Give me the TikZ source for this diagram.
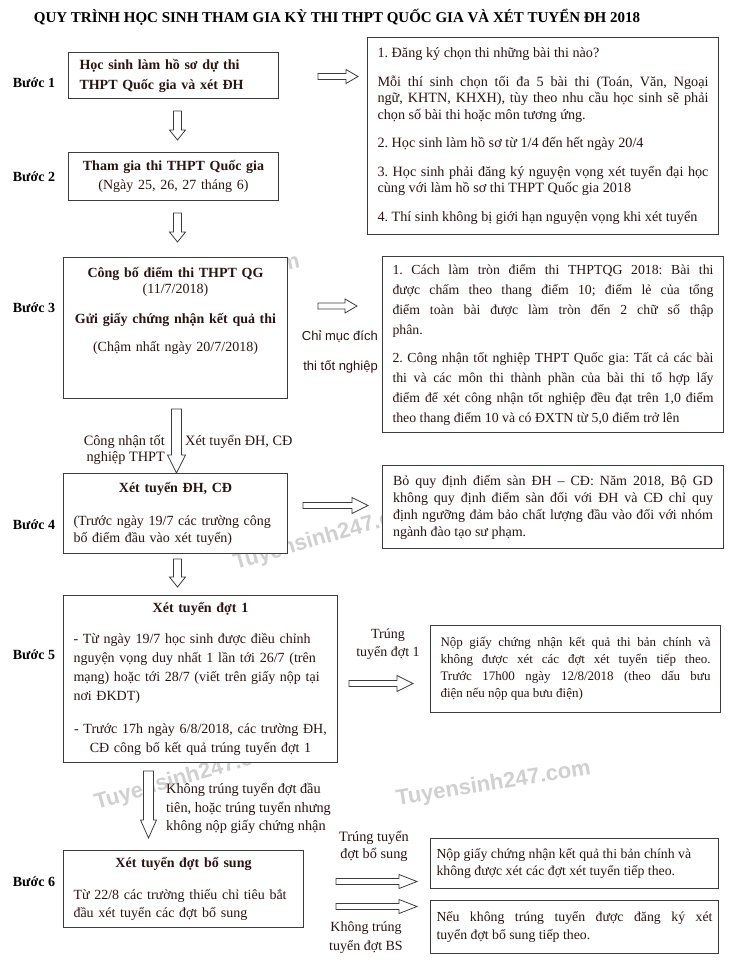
\documentclass[tikz,border=0pt]{standalone}
\usepackage{fontspec}
\setmainfont{Liberation Serif}
\newfontfamily\wmfont{Liberation Sans}
\newfontfamily\labelsans{Liberation Sans}
\usetikzlibrary{calc}
\frenchspacing

\definecolor{boxline}{RGB}{60,60,60}
\definecolor{bodytxt}{RGB}{40,22,18}
\definecolor{wmgray}{RGB}{208,208,208}

\newcommand{\midline}[1]{\makebox[\hsize]{#1}}

\tikzset{
  stepbox/.style={draw=boxline, line width=1pt, fill=white, anchor=north west, inner xsep=10pt, inner ysep=0pt, text=bodytxt},
  notebox/.style={draw=boxline, line width=1pt, fill=white, anchor=north west, inner xsep=10pt, inner ysep=0pt, align=justify, text=bodytxt},
  steplabel/.style={font=\fontsize{14}{16}\selectfont\bfseries, inner sep=0pt},
  flowlabel/.style={text=bodytxt, inner sep=0pt},
  watermark/.style={font=\wmfont\bfseries\fontsize{22}{22}\selectfont, text=wmgray, inner sep=0pt},
  downblock/.style n args={3}{draw=boxline, line width=0.8pt, fill=white,
    to path={let \p1=(\tikztostart), \p2=(\tikztotarget) in
      (\x1-#1,\y1) -- (\x1-#1,\y2+#3) -- (\x1-#2,\y2+#3) -- (\x1,\y2)
      -- (\x1+#2,\y2+#3) -- (\x1+#1,\y2+#3) -- (\x1+#1,\y1) -- cycle}},
  rightblock/.style n args={3}{draw=boxline, line width=0.8pt, fill=white,
    to path={let \p1=(\tikztostart), \p2=(\tikztotarget) in
      (\x1,\y1+#1) -- (\x2-#3,\y1+#1) -- (\x2-#3,\y1+#2) -- (\x2,\y1)
      -- (\x2-#3,\y1-#2) -- (\x2-#3,\y1-#1) -- (\x1,\y1-#1) -- cycle}},
}

\begin{document}
\begin{tikzpicture}[x=1pt, y=-1pt]
\useasboundingbox[fill=white] (0,0) rectangle (729,969);

% watermarks
\node[watermark, rotate=12, anchor=south east] (wm1) at (302,272) {Tuyensinh247.com};
\node[watermark, rotate=16, anchor=south west] (wm2) at (237,574) {Tuyensinh247.com};
\node[watermark, rotate=16, anchor=south west] (wm3) at (98,814) {Tuyensinh247.com};
\node[watermark, rotate=9, anchor=south west] (wm4) at (398,810) {Tuyensinh247.com};

% title
\node[font=\fontsize{15}{18}\selectfont\bfseries] (title) at (337,17) {QUY TRÌNH HỌC SINH THAM GIA KỲ THI THPT QUỐC GIA VÀ XÉT TUYỂN ĐH 2018};

% left column
\node[stepbox, minimum width=210pt, minimum height=46pt, text width=188pt, inner xsep=11pt, align=left, font=\fontsize{14}{20}\selectfont\bfseries] (b1) at (68,52) {Học sinh làm hồ sơ dự thi\\THPT Quốc gia và xét ĐH};
\node[stepbox, minimum width=210pt, minimum height=48pt, text width=190pt, align=center, font=\fontsize{14}{19}\selectfont] (b2) at (68,152) {\textbf{Tham gia thi THPT Quốc gia}\\(Ngày 25, 26, 27 tháng 6)};
\node[stepbox, minimum width=224pt, minimum height=141pt, text width=204pt, align=center, font=\fontsize{14}{16}\selectfont] (b3) at (63,257) {\textbf{Công bố điểm thi THPT QG}\\(11/7/2018)\\[14pt]\textbf{Gửi giấy chứng nhận kết quả thi}\\[12pt](Chậm nhất ngày 20/7/2018)\\[21pt]\mbox{}};
\node[stepbox, minimum width=224pt, minimum height=80pt, text width=204pt, align=left, font=\fontsize{14}{17}\selectfont] (b4) at (63,473) {\midline{\textbf{Xét tuyển ĐH, CĐ}}\\[16pt](Trước ngày 19/7 các trường công\\bố điểm đầu vào xét tuyển)};
\node[stepbox, minimum width=274pt, minimum height=167pt, text width=254pt, align=left, font=\fontsize{14}{19}\selectfont] (b5) at (63,595) {\midline{\textbf{Xét tuyển đợt 1}}\\[12pt]- Từ ngày 19/7 học sinh được điều chỉnh\\nguyện vọng duy nhất 1 lần tới 26/7 (trên\\mạng) hoặc tới 28/7 (viết trên giấy nộp tại\\nơi ĐKDT)\\[14pt]\midline{- Trước 17h ngày 6/8/2018, các trường ĐH,}\\\midline{CĐ công bố kết quả trúng tuyển đợt 1}};
\node[stepbox, minimum width=240pt, minimum height=77pt, text width=220pt, align=left, font=\fontsize{14}{18}\selectfont] (b6) at (63,850) {\midline{\textbf{Xét tuyển đợt bổ sung}}\\[14pt]Từ 22/8 các trường thiếu chỉ tiêu bắt\\đầu xét tuyển các đợt bổ sung};

\node[steplabel] (s1) at (34,83) {Bước 1};
\node[steplabel] (s2) at (34,177) {Bước 2};
\node[steplabel] (s3) at (34,308) {Bước 3};
\node[steplabel] (s4) at (34,525) {Bước 4};
\node[steplabel] (s5) at (34,655) {Bước 5};
\node[steplabel] (s6) at (34,882) {Bước 6};

% right column
\node[notebox, minimum width=351pt, minimum height=197pt, text width=331pt, font=\fontsize{14.2}{16.5}\selectfont] (r1) at (367,37) {1. Đăng ký chọn thi những bài thi nào?\\[12pt]Mỗi thí sinh chọn tối đa 5 bài thi (Toán, Văn, Ngoại\linebreak ngữ, KHTN, KHXH), tùy theo nhu cầu học sinh sẽ phải\linebreak chọn số bài thi hoặc môn tương ứng.\\[12pt]2. Học sinh làm hồ sơ từ 1/4 đến hết ngày 20/4\\[12pt]3. Học sinh phải đăng ký nguyện vọng xét tuyển đại học\linebreak cùng với làm hồ sơ thi THPT Quốc gia 2018\\[12pt]4. Thí sinh không bị giới hạn nguyện vọng khi xét tuyển};
\node[notebox, minimum width=341pt, minimum height=176pt, text width=321pt, font=\fontsize{13.8}{20}\selectfont] (r3) at (382,256) {1. Cách làm tròn điểm thi THPTQG 2018: Bài thi\linebreak được chấm theo thang điểm 10; điểm lẻ của tổng\linebreak điểm toàn bài được làm tròn đến 2 chữ số thập\linebreak phân.\\[8pt]2. Công nhận tốt nghiệp THPT Quốc gia: Tất cả các bài\linebreak thi và các môn thi thành phần của bài thi tổ hợp lấy\linebreak điểm để xét công nhận tốt nghiệp đều đạt trên 1,0 điểm\linebreak theo thang điểm 10 và có ĐXTN từ 5,0 điểm trở lên};
\node[notebox, minimum width=341pt, minimum height=83pt, text width=320pt, font=\fontsize{14}{17}\selectfont] (r4) at (382,465) {Bỏ quy định điểm sàn ĐH – CĐ: Năm 2018, Bộ GD\linebreak không quy định điểm sàn đối với ĐH và CĐ chỉ quy\linebreak định ngưỡng đảm bảo chất lượng đầu vào đối với nhóm\linebreak ngành đào tạo sư phạm.};
\node[notebox, minimum width=290pt, minimum height=87pt, text width=270pt, font=\fontsize{13}{17}\selectfont] (r5) at (430,625) {Nộp giấy chứng nhận kết quả thi bản chính và\linebreak không được xét các đợt xét tuyển tiếp theo.\linebreak Trước 17h00 ngày 12/8/2018 (theo dấu bưu\linebreak điện nếu nộp qua bưu điện)};
\node[notebox, minimum width=288pt, minimum height=50pt, text width=276pt, inner xsep=6pt, font=\fontsize{13.8}{17}\selectfont] (r6a) at (430,838) {Nộp giấy chứng nhận kết quả thi bản chính và\\không được xét các đợt xét tuyển tiếp theo.};
\node[notebox, minimum width=288pt, minimum height=53pt, text width=276pt, inner xsep=6pt, font=\fontsize{13.8}{18}\selectfont] (r6b) at (430,900) {Nếu không trúng tuyển được đăng ký xét\linebreak tuyển đợt bổ sung tiếp theo.};

% labels on the arrows
\node[flowlabel, align=right, anchor=east, font=\labelsans\fontsize{13}{30}\selectfont] (lgrad) at (378,352) {Chỉ mục đích\\thi tốt nghiệp};
\node[flowlabel, align=right, anchor=east, font=\fontsize{14.3}{16}\selectfont] (lgrad2) at (165,450) {Công nhận tốt\\nghiệp THPT};
\node[flowlabel, anchor=west, font=\fontsize{14.3}{16}\selectfont] (ladmit) at (185,442) {Xét tuyển ĐH, CĐ};
\node[flowlabel, align=center, font=\fontsize{14}{18}\selectfont] (lpass1) at (388,644) {Trúng\\tuyển đợt 1};
\node[flowlabel, align=left, anchor=west, font=\fontsize{14.3}{18.5}\selectfont] (lfail1) at (166,808.5) {Không trúng tuyển đợt đầu\\tiên, hoặc trúng tuyển nhưng\\không nộp giấy chứng nhận};
\node[flowlabel, align=center, font=\fontsize{14.3}{17}\selectfont] (lpassbs) at (374,846.5) {Trúng tuyển\\đợt bổ sung};
\node[flowlabel, align=center, font=\fontsize{14}{19}\selectfont] (lfailbs) at (366,937.5) {Không trúng\\tuyển đợt BS};

% block arrows
\draw[downblock={4pt}{8pt}{10pt}] ([xshift=4pt,yshift=-12pt]b1.south) to ([xshift=4pt,yshift=12pt]b2.north);
\draw[downblock={4pt}{8pt}{10pt}] ([xshift=4pt,yshift=-12pt]b2.south) to ([xshift=4pt,yshift=15pt]b3.north);
\draw[downblock={5pt}{9pt}{18pt}] ([xshift=1pt,yshift=-10pt]b3.south) to ([xshift=1pt]b4.north);
\draw[downblock={4pt}{8pt}{10pt}] ([xshift=2pt,yshift=-5pt]b4.south) to ([xshift=2pt,yshift=8pt]b5.north);
\draw[downblock={5pt}{8pt}{18pt}] ([xshift=-52pt,yshift=-8pt]b5.south) to ([xshift=-52pt,yshift=12pt]b6.north);

\draw[rightblock={3pt}{7pt}{12pt}] ([xshift=39pt,yshift=-1pt]b1.east) to ([xshift=-9pt]r1.west);
\draw[rightblock={3pt}{7pt}{12pt}] ([xshift=30pt,yshift=22pt]b3.east) to ([xshift=-25pt]r3.west);
\draw[rightblock={3pt}{8pt}{16pt}] ([xshift=15pt,yshift=8pt]b4.east) to ([xshift=-14pt]r4.west);
\draw[rightblock={3pt}{8pt}{16pt}] ([xshift=11pt,yshift=-4.5pt]b5.east) to ([xshift=-17pt]r5.west);
\draw[rightblock={3pt}{7pt}{18pt}] ([xshift=32pt,yshift=7.5pt]b6.east) to ([xshift=-13pt]r6a.west);
\draw[rightblock={3pt}{7pt}{18pt}] ([xshift=32pt,yshift=-17.5pt]b6.east) to ([xshift=-13pt]r6b.west);
\end{tikzpicture}
\end{document}
